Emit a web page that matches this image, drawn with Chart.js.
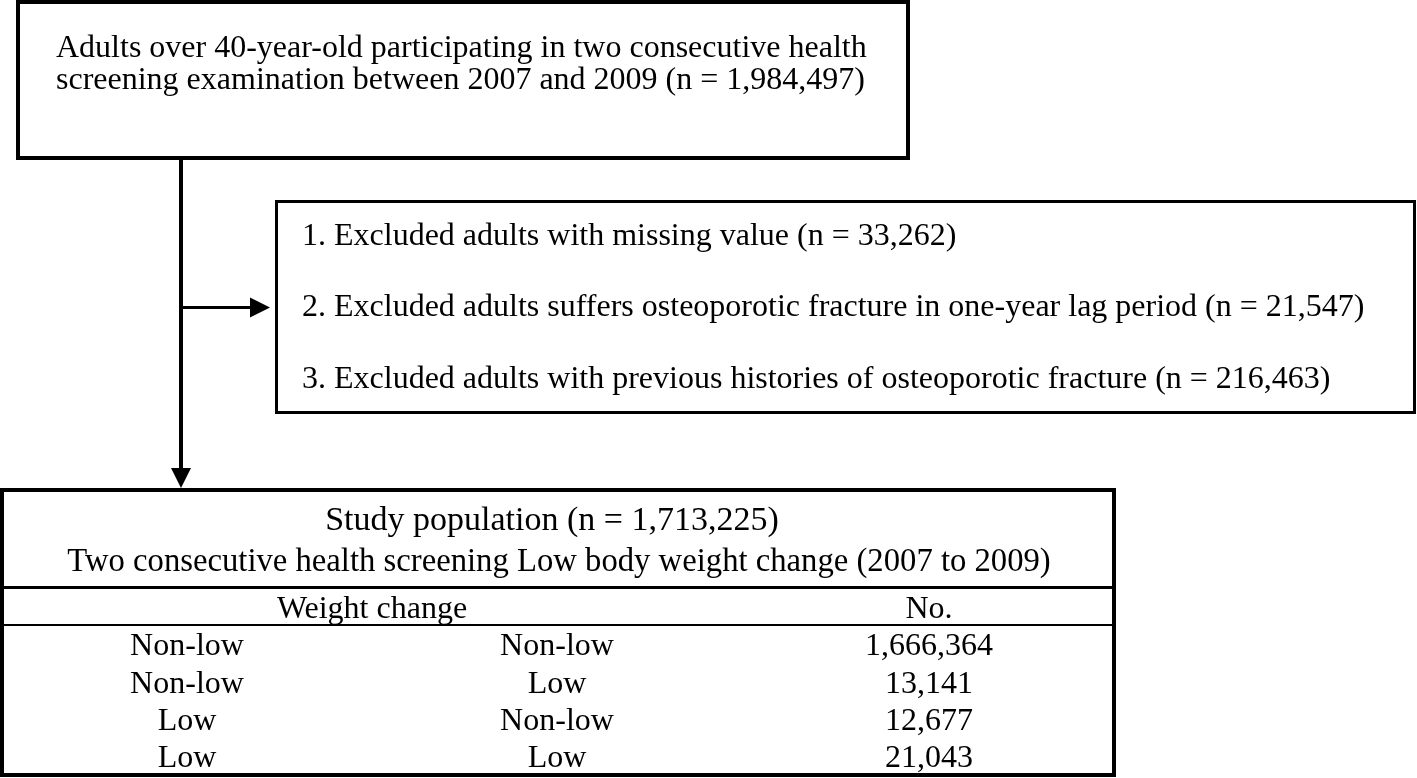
<!DOCTYPE html>
<html lang="en">
<head>
    <title>Study population flow</title>
    <script src="https://cdn.jsdelivr.net/npm/chart.js"></script>
    <style>
        html, body { margin: 0; padding: 0; background: #fff; }
        .chart-container { width: 1417px; height: 778px; position: relative; }
    </style>
</head>
<body>
    <div class="chart-container">
        <canvas id="chart"></canvas>
    </div>
    <script>
    // text and counts
    var screenedLines = ["Adults over 40-year-old participating in two consecutive health",
                         "screening examination between 2007 and 2009"];
    var screenedN = 1984497;
    var excludedLabels = ["1. Excluded adults with missing value",
                          "2. Excluded adults suffers osteoporotic fracture in one-year lag period",
                          "3. Excluded adults with previous histories of osteoporotic fracture"];
    var excludedN = [33262, 21547, 216463];
    var studyTitle = "Study population";
    var studyN = 1713225;
    var studySubtitle = "Two consecutive health screening Low body weight change (2007 to 2009)";
    var tableHeader = ["Weight change", "No."];
    var firstExam = ["Non-low", "Non-low", "Low", "Low"];
    var secondExam = ["Non-low", "Low", "Non-low", "Low"];
    var groupN = [1666364, 13141, 12677, 21043];

    function fmt(n) { return n.toLocaleString("en-US"); }

    // layout in figure units (the scales run 0..1417 and 0..778)
    var FAMILY = "'Liberation Serif', 'Times New Roman', serif";

    var flowPlugin = {
        id: "flow",
        afterDraw: function(chart) {
            var ctx = chart.ctx;
            var sx = chart.scales.x, sy = chart.scales.y;
            function X(v) { return sx.getPixelForValue(v); }
            function Y(v) { return sy.getPixelForValue(v); }

            ctx.save();
            ctx.strokeStyle = "#000";
            ctx.fillStyle = "#000";

            function box(x0, y0, x1, y1, w) {
                ctx.lineWidth = w;
                ctx.strokeRect(X(x0), Y(y0), X(x1) - X(x0), Y(y1) - Y(y0));
            }
            function line(x0, y0, x1, y1, w) {
                ctx.lineWidth = w;
                ctx.beginPath();
                ctx.moveTo(X(x0), Y(y0));
                ctx.lineTo(X(x1), Y(y1));
                ctx.stroke();
            }
            function tri(pts) {
                ctx.beginPath();
                ctx.moveTo(X(pts[0][0]), Y(pts[0][1]));
                ctx.lineTo(X(pts[1][0]), Y(pts[1][1]));
                ctx.lineTo(X(pts[2][0]), Y(pts[2][1]));
                ctx.closePath();
                ctx.fill();
            }
            function text(s, x, y, align, size) {
                ctx.font = (size || 32) + "px " + FAMILY;
                ctx.textAlign = align;
                ctx.fillText(s, X(x), Y(y));
            }

            // boxes
            box(18, 2, 908, 158, 4);
            box(276.5, 201.5, 1414.5, 412.5, 3);
            box(2, 490, 1114, 775, 4);
            line(2, 587.5, 1114, 587.5, 3);
            line(2, 625, 1114, 625, 2);

            // arrows
            line(181, 160, 181, 470, 4);
            tri([[171, 468], [191, 468], [181, 488]]);
            line(181, 307.5, 252, 307.5, 3);
            tri([[250, 297.5], [250, 317.5], [270, 307.5]]);

            ctx.textBaseline = "alphabetic";

            // top box
            text(screenedLines[0], 56, 57, "left");
            text(screenedLines[1] + " (n = " + fmt(screenedN) + ")", 56, 89, "left");

            // exclusions
            var exY = [245, 316, 388];
            excludedLabels.forEach(function(lbl, i) {
                text(lbl + " (n = " + fmt(excludedN[i]) + ")", 302, exY[i], "left");
            });

            // study population table
            text(studyTitle + " (n = " + fmt(studyN) + ")", 552, 530, "center", 34);
            text(studySubtitle, 559, 571, "center", 32.7);
            text(tableHeader[0], 372, 618, "center");
            text(tableHeader[1], 929, 618, "center");
            var rowY = [655, 693, 730, 767];
            groupN.forEach(function(n, i) {
                text(firstExam[i], 187, rowY[i], "center");
                text(secondExam[i], 557, rowY[i], "center");
                text(fmt(n), 929, rowY[i], "center");
            });

            ctx.restore();
        }
    };

    var chart = new Chart(document.getElementById("chart"), {
        type: "scatter",
        data: { datasets: [{ data: [], pointRadius: 0 }] },
        options: {
            responsive: true,
            maintainAspectRatio: false,
            devicePixelRatio: 1,
            animation: false,
            layout: { padding: 0 },
            plugins: { legend: { display: false }, tooltip: { enabled: false } },
            scales: {
                x: { type: "linear", min: 0, max: 1417, display: false },
                y: { type: "linear", min: 0, max: 778, reverse: true, display: false }
            }
        },
        plugins: [flowPlugin]
    });
    </script>
</body>
</html>
